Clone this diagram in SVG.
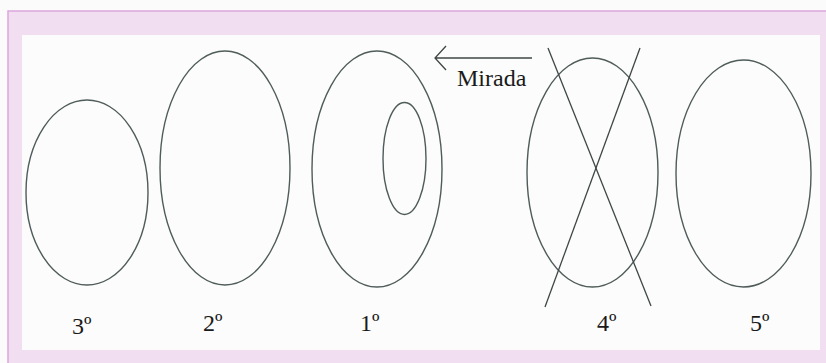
<svg xmlns="http://www.w3.org/2000/svg" width="826" height="363" viewBox="0 0 826 363">
<style>
.e{fill:none;stroke:#4f5c5a;stroke-width:1.4}
.l{fill:none;stroke:#3f4746;stroke-width:1.3}
text{font-family:'Liberation Serif','Times New Roman',serif;font-size:24px;fill:#1a1a1a}
</style>
<rect x="0" y="0" width="826" height="363" fill="#fbfbfb"/>
<rect x="8" y="11" width="830" height="360" fill="#f1dff1" stroke="#dba6dc" stroke-width="1.5"/>
<rect x="22" y="35" width="798" height="315" fill="#fbfcfb"/>
<g id="n3"><ellipse class="e" cx="87" cy="192.5" rx="61" ry="92.5"/><text font-family="Liberation Serif, serif" x="72" y="334">3º</text></g>
<g id="n2"><ellipse class="e" cx="225" cy="168" rx="65" ry="117"/><text font-family="Liberation Serif, serif" x="203" y="331">2º</text></g>
<g id="n1"><ellipse class="e" cx="377" cy="169" rx="65" ry="118"/><ellipse class="e" cx="404.5" cy="158.5" rx="21.5" ry="56"/><text font-family="Liberation Serif, serif" x="360" y="331">1º</text></g>
<g id="n4"><ellipse class="e" cx="592.5" cy="172.5" rx="65.5" ry="114.5"/><text font-family="Liberation Serif, serif" x="597" y="331">4º</text></g>
<g id="n5"><ellipse class="e" cx="743.5" cy="173.5" rx="67.5" ry="113.5"/><text font-family="Liberation Serif, serif" x="750" y="331">5º</text></g>
<g id="connectors">
<line class="l" x1="548" y1="48" x2="651" y2="306"/>
<line class="l" x1="640" y1="48" x2="545" y2="307"/>
<path class="l" d="M532 58H435M446 46L435 58L446 70"/>
</g>
<g id="mirada"><text font-family="Liberation Serif, serif" x="457" y="86">Mirada</text></g>
</svg>
